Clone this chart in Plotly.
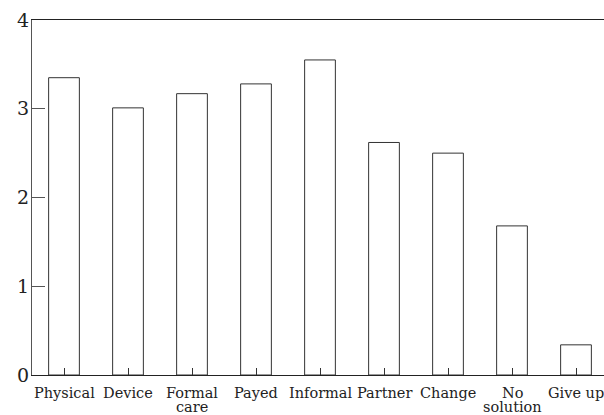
import plotly.graph_objects as go

# Categories and mean scores
categories = ["Physical", "Device", "Formal<br>care", "Payed", "Informal",
              "Partner", "Change", "No<br>solution", "Give up"]
scores = [3.35, 3.01, 3.17, 3.28, 3.55, 2.62, 2.50, 1.68, 0.34]
y_ticks = [0, 1, 2, 3, 4]

positions = list(range(len(categories)))

fig = go.Figure(
    go.Bar(
        x=positions,
        y=scores,
        width=0.48,
        marker=dict(color="white", line=dict(color="#333333", width=1)),
        hoverinfo="skip",
    )
)

# Category labels below the axis, one text per line so the line spacing stays tight
label_font = dict(size=14.5, family="DejaVu Serif", color="#222222")
annotations = []
for pos, label in zip(positions, categories):
    for k, line in enumerate(label.split("<br>")):
        annotations.append(dict(
            x=pos, xref="x", y=0, yref="paper",
            text=line, showarrow=False,
            xanchor="center", yanchor="middle",
            yshift=-18 - 14 * k,
            font=label_font,
        ))

fig.update_layout(
    width=604,
    height=415,
    margin=dict(l=32, r=0, t=20, b=40),
    paper_bgcolor="white",
    plot_bgcolor="white",
    showlegend=False,
    font=dict(family="DejaVu Serif", color="#222222"),
    annotations=annotations,
)

fig.update_xaxes(
    range=[-0.5, 8.4375],
    tickmode="array",
    tickvals=positions,
    showticklabels=False,
    ticks="inside",
    ticklen=7,
    tickcolor="#333333",
    showline=True,
    linecolor="#222222",
    linewidth=1,
    mirror=True,
    showgrid=False,
    zeroline=False,
    automargin=False,
)

fig.update_yaxes(
    range=[0, 4],
    tickmode="array",
    tickvals=y_ticks,
    ticks="inside",
    ticklen=13,
    tickcolor="#555555",
    showline=True,
    linecolor="#555555",
    linewidth=1,
    showgrid=False,
    zeroline=False,
    automargin=False,
    ticklabeloverflow="allow",
    ticklabelstandoff=-2,
    tickfont=dict(size=19, family="DejaVu Serif"),
)

fig.write_html("out.html")
